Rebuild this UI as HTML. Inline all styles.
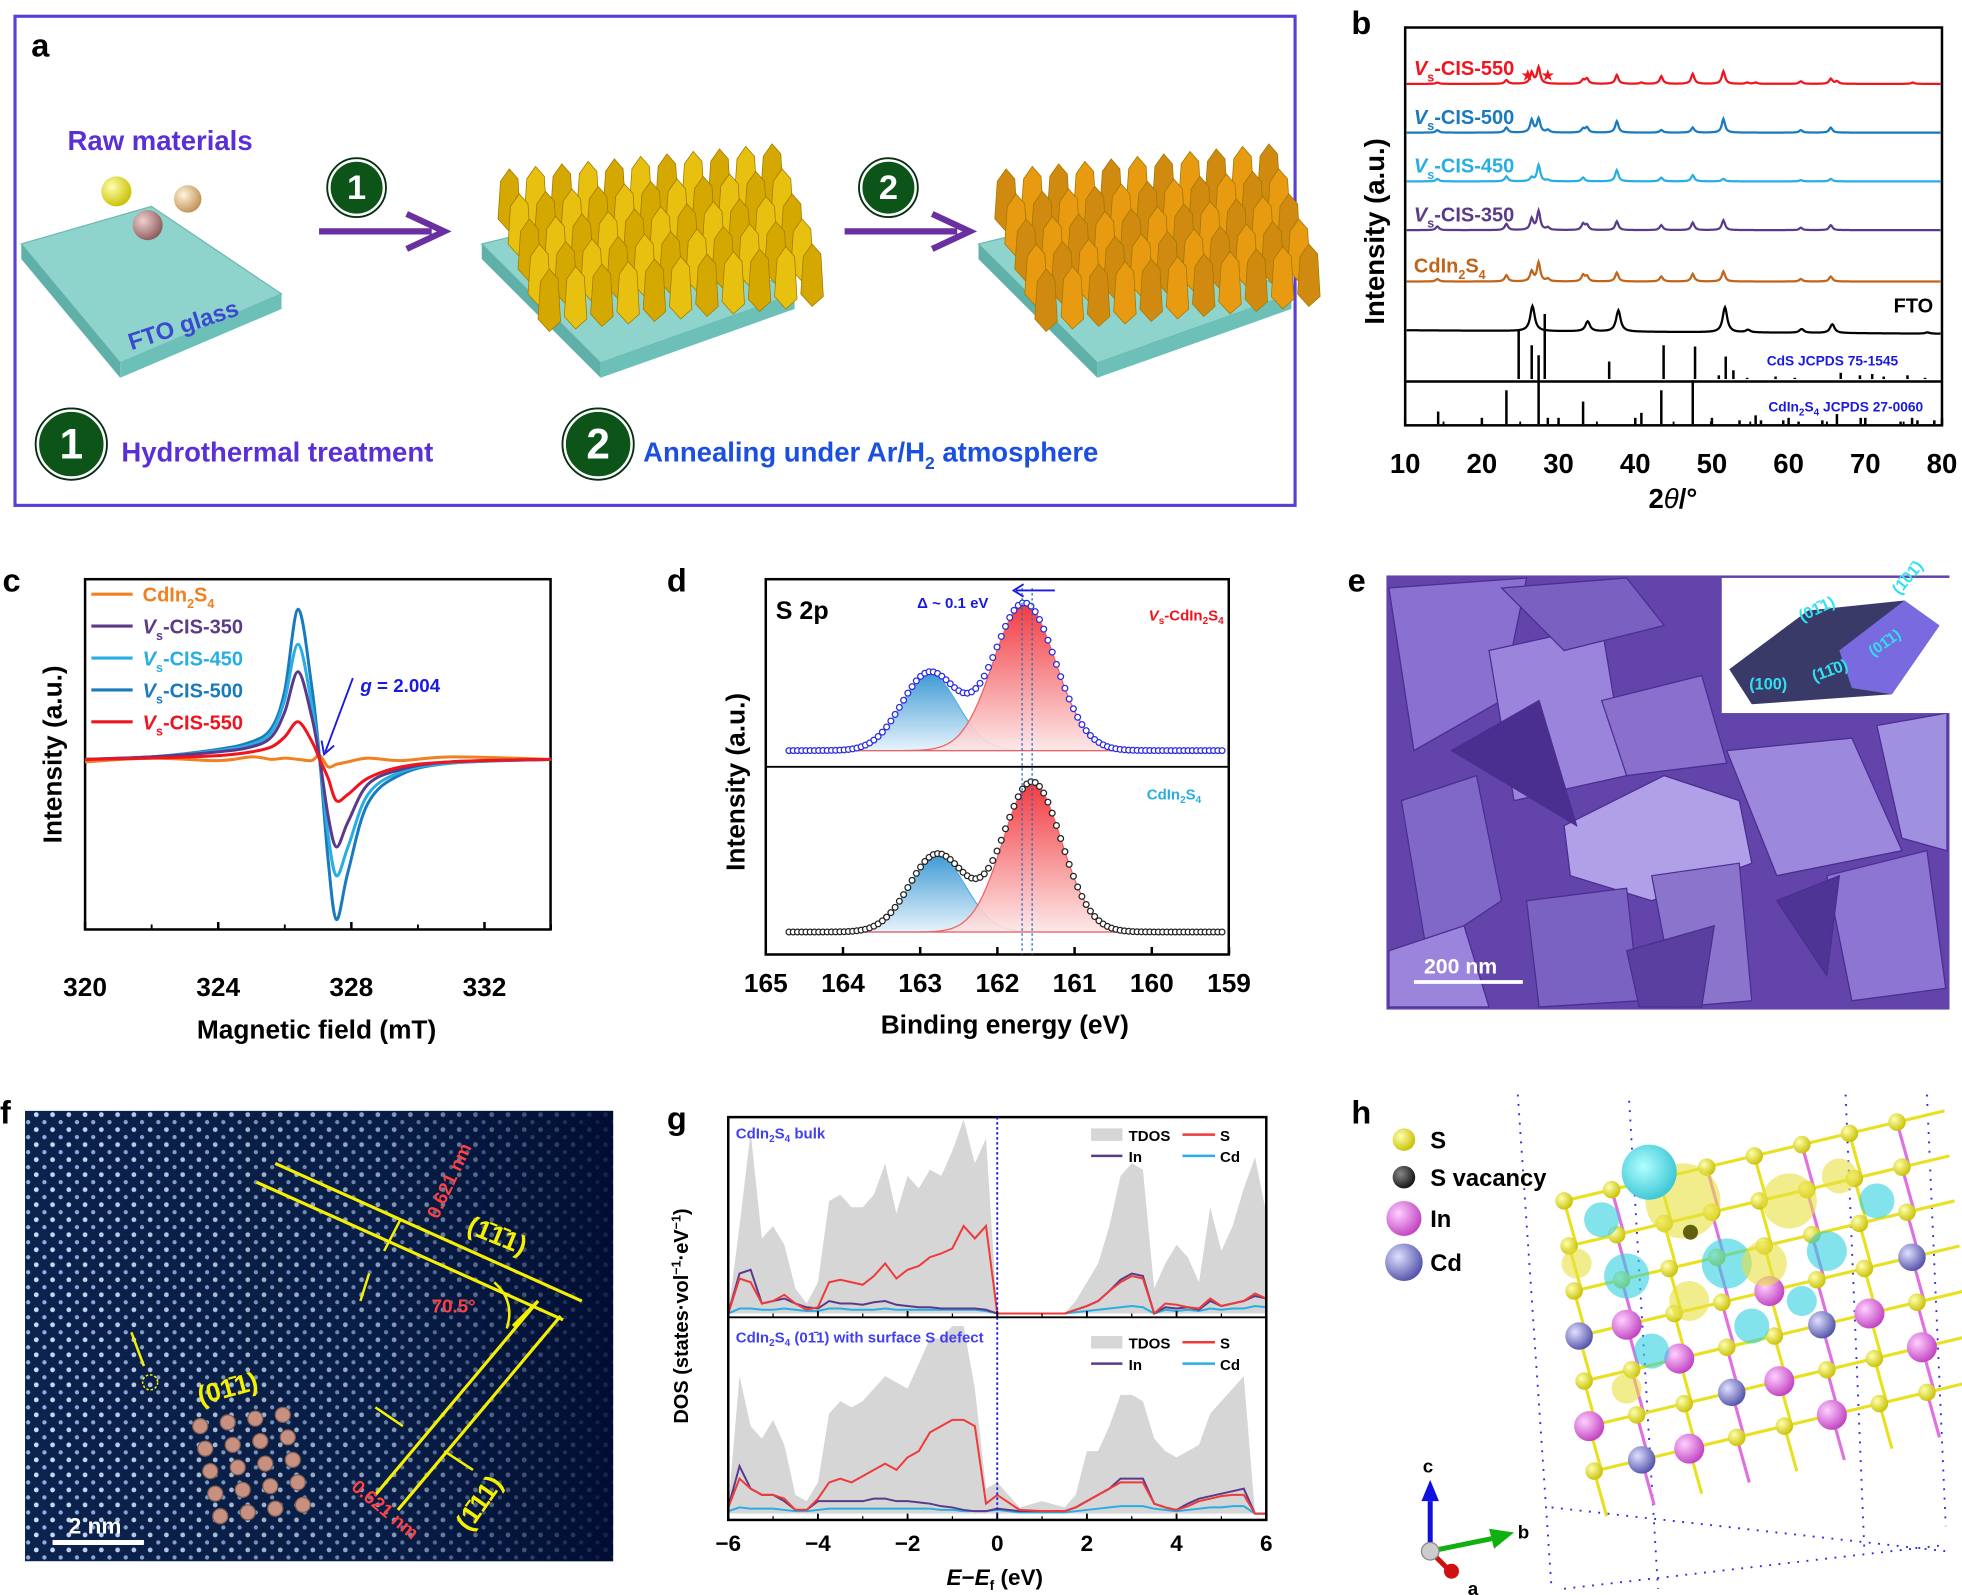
<!DOCTYPE html>
<html><head><meta charset="utf-8"><style>
html,body{margin:0;padding:0;background:#fff}
svg{display:block}
text{font-family:"Liberation Sans",sans-serif;font-weight:bold}
</style></head><body>
<svg id="fig" width="1962" height="1595" viewBox="0 0 1568 1275" preserveAspectRatio="none" xmlns="http://www.w3.org/2000/svg">
<defs>
<linearGradient id="gred" x1="0" y1="0" x2="0" y2="1"><stop offset="0" stop-color="#f0242a"/><stop offset="1" stop-color="#fde6e6"/></linearGradient>
<linearGradient id="gblue" x1="0" y1="0" x2="0" y2="1"><stop offset="0" stop-color="#2a8fd0"/><stop offset="1" stop-color="#e4f2fb"/></linearGradient>
<radialGradient id="gy" cx="0.35" cy="0.35" r="0.7"><stop offset="0" stop-color="#ffffb0"/><stop offset="1" stop-color="#c8c000"/></radialGradient>
<radialGradient id="gbr" cx="0.35" cy="0.35" r="0.7"><stop offset="0" stop-color="#f0d0d0"/><stop offset="1" stop-color="#8a5a5a"/></radialGradient>
<radialGradient id="gbe" cx="0.35" cy="0.35" r="0.7"><stop offset="0" stop-color="#fff4dc"/><stop offset="1" stop-color="#c09050"/></radialGradient>
<radialGradient id="gin" cx="0.35" cy="0.35" r="0.7"><stop offset="0" stop-color="#ffd0ff"/><stop offset="1" stop-color="#c040c0"/></radialGradient>
<radialGradient id="gcd" cx="0.35" cy="0.35" r="0.7"><stop offset="0" stop-color="#e0e0ff"/><stop offset="1" stop-color="#5050a8"/></radialGradient>
<radialGradient id="gk" cx="0.35" cy="0.35" r="0.7"><stop offset="0" stop-color="#888"/><stop offset="1" stop-color="#111"/></radialGradient>
<radialGradient id="gcy" cx="0.4" cy="0.4" r="0.7"><stop offset="0" stop-color="#b0ffff"/><stop offset="1" stop-color="#30c0d0"/></radialGradient>
<pattern id="dots" x="0" y="0" width="13" height="12" patternUnits="userSpaceOnUse"><rect width="13" height="12" fill="#0c2350"/><circle cx="3" cy="3" r="1.9" fill="#c8def8"/><circle cx="9.5" cy="9" r="1.7" fill="#90b4e0"/></pattern>
<linearGradient id="fdark" x1="0" y1="0" x2="1" y2="0"><stop offset="0" stop-color="#000" stop-opacity="0"/><stop offset="0.6" stop-color="#001030" stop-opacity="0.3"/><stop offset="1" stop-color="#000a30" stop-opacity="0.9"/></linearGradient>
</defs>
</svg>
<script>
// ---------------- DATA ----------------
// Panel b: XRD
const xrdSeriesNames = ["Vs-CIS-550","Vs-CIS-500","Vs-CIS-450","Vs-CIS-350","CdIn2S4","FTO"];
const xrdBaselines = [67,106,145,184,225,264];
const peakPos550 = [14.2,23.2,25.0,26.5,27.4,28.5,33.2,33.7,37.6,40.8,43.4,47.5,51.5,54.6,55.7,61.6,65.5,66.3,76.2];
const peakH550 = [1,3,0,9,13,0,3,4,7,1,6,8,10,1,1,2,4,2,1];
const peakPos500 = [14.2,23.2,26.5,27.4,28.6,33.2,33.7,37.6,43.4,47.5,51.5,61.6,65.5];
const peakH500 = [2,4,10,11,2,3,4,9,2,4,11,2,4];
const peakPos450 = [14.2,23.2,26.5,27.4,28.6,33.2,37.6,43.4,47.5,51.5,61.6,65.5];
const peakH450 = [2,4,3,13,1,3,9,3,5,2,1,2];
const peakPos350 = [14.2,23.2,26.5,27.4,28.6,33.2,33.7,37.6,43.4,47.5,51.5,61.6,65.5];
const peakH350 = [3,5,9,15,2,5,4,7,4,6,8,2,4];
const peakPosCIS = [14.2,23.2,26.5,27.4,28.6,33.2,33.7,37.6,43.4,47.5,51.5,61.6,65.5];
const peakHCIS = [2,5,8,15,2,5,4,7,4,6,8,2,4];
const peakPosFTO = [26.6,33.8,37.8,51.7,54.7,61.7,65.7,78.1];
const peakHFTO = [20,8,17,20,2,3,7,1];
const cdsSticks = [24.8,26.5,28.2,36.6,43.7,47.8,50.9,51.8,52.8,54.6,58.3,60.8,66.8,69.3,70.9,72.4,75.5,77.8];
const cdsStickH = [40,27,52,14,27,26,3,18,7,1,2,1,5,3,4,2,3,1];
const cisSticks = [14.3,23.2,27.4,28.6,33.2,40.8,43.4,47.5,49.9,53.6,55.7,56.4,59.3,61.3,64.4,66.3,69.4,74.6,76.1,76.8,79.0];
const cisStickH = [10,27,55,5,18,9,27,35,2,3,7,3,3,2,3,8,5,2,5,3,3];
const xrdTicks = [10,20,30,40,50,60,70,80];

// Panel c: EPR
const eprField = [320,322,324,325,325.6,326.0,326.4,326.8,327.05,327.3,327.55,327.9,328.5,329.5,331,334];
const epr550 = [0,1,3,6,10,18,30,15,0,-15,-33,-28,-15,-6,-2,0];
const epr500 = [0,2,8,14,25,55,120,60,0,-80,-128,-90,-35,-12,-3,0];
const epr450 = [0,2,7,12,22,48,92,45,0,-60,-93,-70,-28,-10,-3,0];
const epr350 = [0,2,6,10,18,38,70,35,0,-45,-70,-50,-20,-8,-2,0];
const eprCIS = [-2,1,-1,2,0,1,0,-1,3,-6,-4,-2,1,-1,2,0];
const eprTicks = [320,324,328,332];

// Panel d: XPS (center eV, height, sigma)
const xpsTopS32 = [161.65,118,0.40];
const xpsTopS12 = [162.88,62,0.36];
const xpsBotS32 = [161.55,120,0.38];
const xpsBotS12 = [162.78,62,0.36];
const xpsTicks = [165,164,163,162,161,160,159];

// Panel g: DOS
const dosE = [-6,-5.75,-5.5,-5.25,-5,-4.75,-4.5,-4.25,-4,-3.75,-3.5,-3.25,-3,-2.75,-2.5,-2.25,-2,-1.75,-1.5,-1.25,-1,-0.75,-0.5,-0.25,0,0.5,1,1.5,1.75,2,2.25,2.5,2.75,3,3.25,3.5,3.75,4,4.25,4.5,4.75,5,5.25,5.5,5.75,6];
const dosTopT = [0,70,145,60,70,55,20,8,25,90,95,85,85,95,120,80,110,100,115,110,130,155,120,140,0,0,0,0,10,25,40,70,110,120,115,20,40,55,45,25,85,50,70,100,125,80];
const dosTopS = [0,28,25,8,10,15,8,3,5,25,27,25,23,30,40,28,35,38,45,48,52,70,60,70,0,0,0,0,3,6,10,18,25,30,28,0,8,7,5,4,12,6,8,10,16,12];
const dosTopIn = [0,32,35,8,10,12,8,5,4,10,8,8,7,9,10,7,6,5,5,4,4,4,4,3,0,0,0,0,3,6,10,18,27,32,30,0,5,4,5,3,10,6,8,10,14,12];
const dosTopCd = [0,4,4,3,3,4,3,2,2,4,4,3,3,3,4,3,3,3,3,3,3,3,3,2,0,0,0,0,1,2,3,4,5,6,5,0,3,2,3,2,4,3,4,4,6,5];
const dosBotT = [5,110,70,60,75,55,15,10,25,80,90,85,90,100,110,105,100,120,140,140,150,150,100,20,25,5,10,5,15,50,50,70,95,95,90,60,50,45,50,55,80,90,100,110,0,0];
const dosBotS = [5,28,20,15,15,12,3,3,12,25,28,25,30,35,40,35,45,50,65,70,75,75,70,8,15,3,2,2,5,10,15,20,25,25,25,8,5,3,6,10,12,14,15,15,0,0];
const dosBotIn = [5,38,20,15,15,10,3,3,10,10,10,10,10,12,12,10,10,9,8,6,5,3,2,2,4,2,2,2,5,10,15,20,28,28,28,8,5,3,8,12,14,16,18,20,0,0];
const dosBotCd = [2,5,4,4,4,3,2,2,3,4,4,4,4,4,4,4,4,4,4,3,3,2,2,2,3,1,1,1,2,3,4,5,6,6,6,4,3,2,3,4,5,5,6,6,0,0];
const dosTicks = [-6,-4,-2,0,2,4,6];

// ---------------- HELPERS ----------------
const NS="http://www.w3.org/2000/svg";
const svg=document.getElementById('fig');
function mk(tag,attrs,parent){const e=document.createElementNS(NS,tag);for(const k in attrs)e.setAttribute(k,attrs[k]);(parent||svg).appendChild(e);return e;}
function txt(x,y,s,size,fill,anchor,parent){const t=mk('text',{x:x,y:y,'font-size':size,fill:fill||'#000','text-anchor':anchor||'start'},parent);t.innerHTML=s;return t;}
function smooth(pts){let d='M'+pts[0][0].toFixed(1)+','+pts[0][1].toFixed(1);for(let i=0;i<pts.length-1;i++){const p0=pts[i-1]||pts[i],p1=pts[i],p2=pts[i+1],p3=pts[i+2]||p2;const c1=[p1[0]+(p2[0]-p0[0])/6,p1[1]+(p2[1]-p0[1])/6],c2=[p2[0]-(p3[0]-p1[0])/6,p2[1]-(p3[1]-p1[1])/6];d+=' C'+c1[0].toFixed(1)+','+c1[1].toFixed(1)+' '+c2[0].toFixed(1)+','+c2[1].toFixed(1)+' '+p2[0].toFixed(1)+','+p2[1].toFixed(1);}return d;}
function g(name){const e=mk('g',{});return e;}

// ---------------- PANEL A ----------------
(function(){
const G=g('panel-a-schematic');
const box=mk('rect',{x:12,y:13,width:1023,height:391,fill:'none',stroke:'#5a3fd6','stroke-width':2.5},G);

const la=txt(25,45,'a',26,'#000','start',G);
function slab(ox,oy,w,name){const s=g(name);G.appendChild(s);
 mk('polygon',{points:`${ox},${oy} ${ox+w*0.5},${oy-30} ${ox+w},${oy+40} ${ox+w*0.38},${oy+95}`,fill:'#8fd4cc',stroke:'#6bb8b0'},s);
 mk('polygon',{points:`${ox},${oy} ${ox+w*0.38},${oy+95} ${ox+w*0.38},${oy+107} ${ox},${oy+12}`,fill:'#5fb0a8'},s);
 mk('polygon',{points:`${ox+w*0.38},${oy+95} ${ox+w},${oy+40} ${ox+w},${oy+52} ${ox+w*0.38},${oy+107}`,fill:'#6cc0b8'},s);return s;}
slab(17,195,208,'fto-glass-substrate');
mk('circle',{cx:93,cy:153,r:12,fill:'url(#gy)'},G);
mk('circle',{cx:118,cy:180,r:12,fill:'url(#gbr)'},G);
mk('circle',{cx:150,cy:159,r:11,fill:'url(#gbe)'},G);
const rm=txt(54,120,'Raw materials',22,'#5b2fd6','start',G);
const fg=txt(105,280,'FTO glass',19,'#3a4ad0','start',G);fg.setAttribute('transform','rotate(-18 105 280)');
function arrow(x1,x2,y,name){const a=g(name);G.appendChild(a);mk('line',{x1:x1,y1:y,x2:x2-10,y2:y,stroke:'#6a2fa0','stroke-width':5},a);mk('polyline',{points:`${x2-30},${y-14} ${x2},${y} ${x2-30},${y+14}`,fill:'none',stroke:'#6a2fa0','stroke-width':5},a);}
arrow(255,355,185,'step-1-arrow');arrow(675,775,185,'step-2-arrow');
function badge(cx,cy,r,n,name){const b=g(name);G.appendChild(b);mk('circle',{cx:cx,cy:cy,r:r,fill:'#0c5418',stroke:'#fff','stroke-width':2.5},b);mk('circle',{cx:cx,cy:cy,r:r+1.5,fill:'none',stroke:'#063010','stroke-width':1.5},b);txt(cx,cy+r*0.42,n,r*1.25,'#fff','middle',b);}
badge(285,150,22,'1','step-1-badge');badge(710,150,22,'2','step-2-badge');
function plates(ox,oy,c1,c2,name){const s=slab(ox,oy+15,250,name+'-substrate');const p=g(name);G.appendChild(p);
 for(let r=0;r<5;r++)for(let c=0;c<11;c++){const x=ox+15+c*21+r*8,y=oy-45+r*20+c*-2;const w=14,h=50;
  mk('polygon',{points:`${x},${y+10} ${x+w/2},${y} ${x+w},${y+8} ${x+w+2},${y+h-8} ${x+w/2},${y+h} ${x-2},${y+h-10}`,fill:(r+c)%2?c1:c2,stroke:'#a07800','stroke-width':0.6},p);}}
plates(385,180,'#e8c010','#d4a800','yellow-cdin2s4-plates');
plates(782,180,'#e89a10','#d08a10','annealed-orange-plates');
badge(57,355,27,'1','legend-step-1-badge');badge(478,355,27,'2','legend-step-2-badge');
const h1=txt(97,369,'Hydrothermal treatment',22,'#5b2fd6','start',G);
const h2=txt(514,369,'Annealing under Ar/H<tspan font-size="14" dy="6">2</tspan><tspan dy="-6"> atmosphere</tspan>',22,'#1a4fe0','start',G);
})();

// ---------------- PANEL B ----------------
(function(){
const G=g('panel-b-xrd');
const X0=1123,X1=1552,xs=t=>X0+(t-10)*(X1-X0)/70;
const lb=txt(1080,27,'b',26,'#000','start',G);
const fr=mk('rect',{x:X0,y:22,width:X1-X0,height:318,fill:'none',stroke:'#000','stroke-width':2},G);
mk('line',{x1:X0,y1:305,x2:X1,y2:305,stroke:'#000','stroke-width':2},G);
const colors=['#f0141e','#1a7abf','#27aee3','#5b3a8a','#c0651a','#000'];
const pos=[peakPos550,peakPos500,peakPos450,peakPos350,peakPosCIS,peakPosFTO],hs=[peakH550,peakH500,peakH450,peakH350,peakHCIS,peakHFTO];
for(let s=0;s<6;s++){let d='';for(let t=10.2;t<=79.8;t+=0.1){let v=0;for(let k=0;k<pos[s].length;k++){const w=s==5?0.35:0.25;v+=hs[s][k]/(1+((t-pos[s][k])/w)**2);}
 const base=xrdBaselines[s]+(s==5?(t-10)*0.04:0);d+=(d?'L':'M')+xs(t).toFixed(1)+','+(base-v).toFixed(1);}
 const p=mk('path',{d:d,fill:'none',stroke:colors[s],'stroke-width':1.8},G);
 }
const labs=[['<tspan font-style="italic">V</tspan><tspan font-size="10" dy="5">s</tspan><tspan dy="-5">-CIS-550</tspan>',60],['<tspan font-style="italic">V</tspan><tspan font-size="10" dy="5">s</tspan><tspan dy="-5">-CIS-500</tspan>',99],['<tspan font-style="italic">V</tspan><tspan font-size="10" dy="5">s</tspan><tspan dy="-5">-CIS-450</tspan>',138],['<tspan font-style="italic">V</tspan><tspan font-size="10" dy="5">s</tspan><tspan dy="-5">-CIS-350</tspan>',177],['CdIn<tspan font-size="10" dy="5">2</tspan><tspan dy="-5">S</tspan><tspan font-size="10" dy="5">4</tspan>',218]];
labs.forEach((l,i)=>{const t=txt(1130,l[1],l[0],16,colors[i],'start',G);});
txt(1216,64,'★',11,'#f0141e','start',G);txt(1232,64,'★',11,'#f0141e','start',G);
const ft=txt(1545,250,'FTO',16,'#000','end',G);
cdsSticks.forEach((t,i)=>{const l=mk('line',{x1:xs(t),y1:303,x2:xs(t),y2:303-cdsStickH[i],stroke:'#000','stroke-width':2},G);});
cisSticks.forEach((t,i)=>{const l=mk('line',{x1:xs(t),y1:339,x2:xs(t),y2:339-cisStickH[i],stroke:'#000','stroke-width':2},G);});
txt(1517,292,'CdS JCPDS 75-1545',11,'#1a1ae0','end',G);
txt(1537,329,'CdIn<tspan font-size="8" dy="3">2</tspan><tspan dy="-3">S</tspan><tspan font-size="8" dy="3">4</tspan><tspan dy="-3"> JCPDS 27-0060</tspan>',11,'#1a1ae0','end',G);
xrdTicks.forEach(t=>{mk('line',{x1:xs(t),y1:340,x2:xs(t),y2:334,stroke:'#000','stroke-width':2},G);const tt=txt(xs(t),378,t,22,'#000','middle',G);if(t<80)mk('line',{x1:xs(t+5),y1:340,x2:xs(t+5),y2:337,stroke:'#000','stroke-width':1.5},G);});
const xl=txt(1337,406,'2<tspan font-style="italic" font-weight="normal">θ</tspan>/°',22,'#000','middle',G);
const yl=txt(1106,185,'Intensity (a.u.)',22,'#000','middle',G);yl.setAttribute('transform','rotate(-90 1106 185)');
})();

// ---------------- PANEL C ----------------
(function(){
const G=g('panel-c-epr');
const X0=68,xs=f=>X0+(f-320)*26.6,ys=v=>607-v;
const lc=txt(2,473,'c',26,'#000','start',G);
const fr=mk('rect',{x:68,y:463,width:372,height:280,fill:'none',stroke:'#000','stroke-width':2},G);
const series=[[eprCIS,'#f08020','cdin2s4'],[epr500,'#1a7abf','vs-cis-500'],[epr450,'#27aee3','vs-cis-450'],[epr350,'#5b3a8a','vs-cis-350'],[epr550,'#f0141e','vs-cis-550']];
series.forEach(s=>{const pts=eprField.map((f,i)=>[xs(f),ys(s[0][i])]);const p=mk('path',{d:smooth(pts),fill:'none',stroke:s[1],'stroke-width':2.4},G);});
const leg=[['CdIn<tspan font-size="10" dy="5">2</tspan><tspan dy="-5">S</tspan><tspan font-size="10" dy="5">4</tspan>','#f08020'],['<tspan font-style="italic">V</tspan><tspan font-size="10" dy="5">s</tspan><tspan dy="-5">-CIS-350</tspan>','#5b3a8a'],['<tspan font-style="italic">V</tspan><tspan font-size="10" dy="5">s</tspan><tspan dy="-5">-CIS-450</tspan>','#27aee3'],['<tspan font-style="italic">V</tspan><tspan font-size="10" dy="5">s</tspan><tspan dy="-5">-CIS-500</tspan>','#1a7abf'],['<tspan font-style="italic">V</tspan><tspan font-size="10" dy="5">s</tspan><tspan dy="-5">-CIS-550</tspan>','#f0141e']];
leg.forEach((l,i)=>{const y=475+i*25.5;const e=g('epr-legend-entry');G.appendChild(e);mk('line',{x1:73,y1:y,x2:106,y2:y,stroke:l[1],'stroke-width':2.5},e);txt(114,y+6,l[0],16,l[1],'start',e);});
const gv=txt(288,553,'<tspan font-style="italic">g</tspan> = 2.004',15,'#1a1ae0','start',G);
mk('line',{x1:282,y1:542,x2:260,y2:601,stroke:'#1a1ae0','stroke-width':1.5},G);mk('polyline',{points:'257,592 259,603 267,596',fill:'none',stroke:'#1a1ae0','stroke-width':1.5},G);
eprTicks.forEach(t=>{mk('line',{x1:xs(t),y1:743,x2:xs(t),y2:737,stroke:'#000','stroke-width':2},G);mk('line',{x1:xs(t+2),y1:743,x2:xs(t+2),y2:739,stroke:'#000','stroke-width':1.5},G);const tt=txt(xs(t),796,t,21,'#000','middle',G);});
const xl=txt(253,830,'Magnetic field (mT)',21,'#000','middle',G);
const yl=txt(49,603,'Intensity (a.u.)',21,'#000','middle',G);yl.setAttribute('transform','rotate(-90 49 603)');
})();

// ---------------- PANEL D ----------------
(function(){
const G=g('panel-d-xps');
const xs=e=>612+(165-e)*61.7;
const ld=txt(533,473,'d',26,'#000','start',G);
const fr=mk('rect',{x:612,y:463,width:370,height:300,fill:'none',stroke:'#000','stroke-width':2},G);
mk('line',{x1:612,y1:613,x2:982,y2:613,stroke:'#000','stroke-width':1.5},G);
function gauss(p,e){return p[1]*Math.exp(-((e-p[0])**2)/(2*p[2]*p[2]));}
function panel(b,p32,p12,circ,name){
 [[p12,'url(#gblue)','#5ab0e0'],[p32,'url(#gred)','#f06060']].forEach(q=>{let d='M'+xs(164.6)+','+b;for(let e=164.6;e>=159.4;e-=0.05)d+='L'+xs(e).toFixed(1)+','+(b-gauss(q[0],e)).toFixed(1);d+='Z';const a=mk('path',{d:d,fill:q[1],stroke:q[2],'stroke-width':1,'fill-opacity':0.9},G);});
 const cg=g(name+'-envelope-points');G.appendChild(cg);
 for(let e=164.7;e>=159.05;e-=0.055){const v=gauss(p32,e)+gauss(p12,e);mk('circle',{cx:xs(e),cy:b-v,r:2.3,fill:'#fff',stroke:circ,'stroke-width':1},cg);}}
panel(600,xpsTopS32,xpsTopS12,'#2a2ae0','xps-vs-cdin2s4');
panel(745,xpsBotS32,xpsBotS12,'#222','xps-cdin2s4');
mk('line',{x1:xs(161.68),y1:470,x2:xs(161.68),y2:763,stroke:'#1a6ad0','stroke-width':1,'stroke-dasharray':'2,2'},G);
mk('line',{x1:xs(161.55),y1:470,x2:xs(161.55),y2:763,stroke:'#1a6ad0','stroke-width':1,'stroke-dasharray':'2,2'},G);
mk('line',{x1:843,y1:472,x2:812,y2:472,stroke:'#1a1ae0','stroke-width':1.5},G);mk('polyline',{points:'818,467 810,472 818,477',fill:'none',stroke:'#1a1ae0','stroke-width':1.5},G);
txt(733,486,'Δ ~ 0.1 eV',12,'#1a1ae0','start',G);
const s2=txt(620,495,'S 2p',20,'#000','start',G);
txt(978,496,'<tspan font-style="italic">V</tspan><tspan font-size="8" dy="3">s</tspan><tspan dy="-3">-CdIn</tspan><tspan font-size="8" dy="3">2</tspan><tspan dy="-3">S</tspan><tspan font-size="8" dy="3">4</tspan>',12,'#f0141e','end',G);
txt(960,639,'CdIn<tspan font-size="8" dy="3">2</tspan><tspan dy="-3">S</tspan><tspan font-size="8" dy="3">4</tspan>',12,'#27aee3','end',G);
xpsTicks.forEach(t=>{mk('line',{x1:xs(t),y1:763,x2:xs(t),y2:757,stroke:'#000','stroke-width':2},G);const tt=txt(xs(t),793,t,21,'#000','middle',G);});
const xl=txt(803,826,'Binding energy (eV)',21,'#000','middle',G);
const yl=txt(595,625,'Intensity (a.u.)',21,'#000','middle',G);yl.setAttribute('transform','rotate(-90 595 625)');
})();

// ---------------- PANEL E ----------------
(function(){
const G=g('panel-e-sem');
const le=txt(1077,473,'e',26,'#000','start',G);
const bg=mk('rect',{x:1108,y:460,width:450,height:347,fill:'#6244aa'},G);
const polys=[['1110,470 1220,462 1200,560 1130,600','#8a70d0'],['1190,520 1280,500 1300,620 1210,640','#9a84dc'],['1250,660 1330,620 1390,640 1400,690 1320,720 1255,700','#b0a0e8'],['1320,700 1390,690 1400,800 1340,805','#8a74cc'],['1380,600 1480,590 1520,680 1420,700','#9c88dc'],['1120,640 1180,620 1200,720 1140,760','#8068c8'],['1460,700 1540,680 1555,790 1480,800','#8c76d2'],['1220,720 1300,710 1310,800 1230,805','#7a62c2'],['1400,480 1500,470 1520,560 1420,560','#9078d4'],['1160,600 1230,560 1260,660','#4a2e90'],['1280,560 1360,540 1380,610 1300,620','#8a70cc'],['1110,760 1170,740 1190,805 1110,805','#9a84dc'],['1420,720 1470,700 1460,780','#4e3494'],['1200,470 1300,462 1330,500 1250,520','#7a60c0'],['1500,580 1556,570 1556,680 1520,670','#a090e0'],['1300,760 1370,740 1360,805 1310,805','#5a3ea0']];
polys.forEach(p=>mk('polygon',{points:p[0],fill:p[1],stroke:'#4a2e90','stroke-width':1},G));
const ins=mk('rect',{x:1376,y:462,width:182,height:108,fill:'#fff'},G);
mk('polygon',{points:'1382,535 1445,488 1522,480 1550,500 1512,555 1400,563',fill:'#3a3a68'},G);
mk('polygon',{points:'1470,520 1522,480 1550,500 1512,555 1480,550',fill:'#7a6ae0'},G);
txt(1440,497,'(01̄1)',13,'#30e0f0','start',G).setAttribute('transform','rotate(-25 1440 497)');
txt(1518,476,'(1̄01̄)',13,'#30e0f0','start',G).setAttribute('transform','rotate(-50 1518 476)');
txt(1497,525,'(01̄1)',12,'#30e0f0','start',G).setAttribute('transform','rotate(-35 1497 525)');
txt(1398,551,'(100)',13,'#30e0f0','start',G);
txt(1450,545,'(11̄0)',13,'#30e0f0','start',G).setAttribute('transform','rotate(-20 1450 545)');
const sb=mk('line',{x1:1130,y1:785,x2:1217,y2:785,stroke:'#fff','stroke-width':3},G);
txt(1138,778,'200 nm',17,'#fff','start',G).setAttribute('font-weight','normal');
})();

// ---------------- PANEL F ----------------
(function(){
const G=g('panel-f-haadf');
const lf=txt(0,898,'f',26,'#000','start',G);
const im=mk('rect',{x:20,y:888,width:470,height:360,fill:'url(#dots)'},G);
mk('rect',{x:20,y:888,width:470,height:360,fill:'url(#fdark)'},G);
const Y='#f5f000';
[[205,945,450,1055],[220,930,465,1040]].forEach(l=>mk('line',{x1:l[0],y1:l[1],x2:l[2],y2:l[3],stroke:Y,'stroke-width':2.5},G));
[[430,1040,300,1195],[448,1052,318,1207]].forEach(l=>mk('line',{x1:l[0],y1:l[1],x2:l[2],y2:l[3],stroke:Y,'stroke-width':2.5},G));
mk('line',{x1:410,y1:1060,x2:430,y2:1040,stroke:Y,'stroke-width':2.5},G);
mk('path',{d:'M395,1025 Q412,1040 405,1062',fill:'none',stroke:Y,'stroke-width':2},G);
mk('line',{x1:320,y1:975,x2:307,y2:1000,stroke:Y,'stroke-width':2},G);mk('line',{x1:288,y1:1040,x2:295,y2:1018,stroke:Y,'stroke-width':2},G);
mk('line',{x1:300,y1:1125,x2:322,y2:1140,stroke:Y,'stroke-width':2},G);mk('line',{x1:378,y1:1175,x2:355,y2:1160,stroke:Y,'stroke-width':2},G);
mk('line',{x1:105,y1:1065,x2:115,y2:1092,stroke:Y,'stroke-width':2},G);
mk('circle',{cx:120,cy:1105,r:6,fill:'none',stroke:Y,'stroke-width':1.2,'stroke-dasharray':'2,1.5'},G);
txt(350,975,'0.621 nm',15,'#ff4040','start',G).setAttribute('transform','rotate(-65 350 975)');
txt(372,985,'(1̄1̄1)',21,Y,'start',G).setAttribute('transform','rotate(22 372 985)');
txt(345,1049,'70.5°',15,'#ff4040','start',G);
txt(160,1123,'(01̄1)',21,Y,'start',G).setAttribute('transform','rotate(-15 160 1123)');
txt(280,1190,'0.621 nm',15,'#ff4040','start',G).setAttribute('transform','rotate(40 280 1190)');
txt(375,1225,'(1̄11)',21,Y,'start',G).setAttribute('transform','rotate(-55 375 1225)');
const cg=g('crystal-model-overlay');G.appendChild(cg);
for(let r=0;r<5;r++)for(let c=0;c<4;c++)mk('circle',{cx:160+c*22+r*4,cy:1140+r*18-c*3,r:6,fill:'#c89080',stroke:'#806050'},cg);
mk('line',{x1:42,y1:1233,x2:115,y2:1233,stroke:'#fff','stroke-width':4},G);
txt(55,1226,'2 nm',18,'#fff','start',G).setAttribute('font-weight','normal');
})();

// ---------------- PANEL G ----------------
(function(){
const G=g('panel-g-dos');
const xs=e=>582+(e+6)*35.83;
const lg=txt(533,903,'g',26,'#000','start',G);
function panel(b,T,S,In,Cd,name){
 let d='M'+xs(-6)+','+b;dosE.forEach((e,i)=>d+='L'+xs(e).toFixed(1)+','+(b-T[i]).toFixed(1));d+='L'+xs(6)+','+b+'Z';
 const a=mk('path',{d:d,fill:'#d6d6d6'},G);
 [[Cd,'#27aee3','cd'],[In,'#5b3a8a','in'],[S,'#f03a3a','s']].forEach(q=>{let p='';dosE.forEach((e,i)=>p+=(p?'L':'M')+xs(e).toFixed(1)+','+(b-q[0][i]).toFixed(1));const l=mk('path',{d:p,fill:'none',stroke:q[1],'stroke-width':1.6},G);});}
panel(1050,dosTopT,dosTopS,dosTopIn,dosTopCd,'bulk');
panel(1210,dosBotT,dosBotS,dosBotIn,dosBotCd,'surface-defect');
const fr=mk('rect',{x:582,y:893,width:430,height:322,fill:'none',stroke:'#000','stroke-width':2},G);
mk('line',{x1:582,y1:1053,x2:1012,y2:1053,stroke:'#000','stroke-width':1.5},G);
mk('line',{x1:xs(0),y1:893,x2:xs(0),y2:1215,stroke:'#1a1ae0','stroke-width':1.5,'stroke-dasharray':'2,2'},G);
txt(588,910,'CdIn<tspan font-size="8" dy="3">2</tspan><tspan dy="-3">S</tspan><tspan font-size="8" dy="3">4</tspan><tspan dy="-3"> bulk</tspan>',12,'#4040f0','start',G);
txt(588,1073,'CdIn<tspan font-size="8" dy="3">2</tspan><tspan dy="-3">S</tspan><tspan font-size="8" dy="3">4</tspan><tspan dy="-3"> (01̄1) with surface S defect</tspan>',12,'#4040f0','start',G);
[[903,'top'],[1069,'bottom']].forEach(q=>{const y=q[0];const e=g('dos-legend-'+q[1]);G.appendChild(e);
 mk('rect',{x:872,y:y-1,width:25,height:10,fill:'#d6d6d6'},e);txt(902,y+9,'TDOS',12,'#000','start',e);
 mk('line',{x1:945,y1:y+4,x2:971,y2:y+4,stroke:'#f03a3a','stroke-width':2},e);txt(975,y+9,'S',12,'#000','start',e);
 mk('line',{x1:872,y1:y+21,x2:897,y2:y+21,stroke:'#5b3a8a','stroke-width':2},e);txt(902,y+26,'In',12,'#000','start',e);
 mk('line',{x1:945,y1:y+21,x2:971,y2:y+21,stroke:'#27aee3','stroke-width':2},e);txt(975,y+26,'Cd',12,'#000','start',e);});
dosTicks.forEach(t=>{[1215,1053].forEach(yy=>mk('line',{x1:xs(t),y1:yy,x2:xs(t),y2:yy-5,stroke:'#000','stroke-width':1.5},G));if(t<6)[1215,1053].forEach(yy=>mk('line',{x1:xs(t+1),y1:yy,x2:xs(t+1),y2:yy-3,stroke:'#000','stroke-width':1},G));
 const tt=txt(xs(t),1240,t<0?'−'+(-t):t,18,'#000','middle',G);});
const xl=txt(795,1267,'<tspan font-style="italic">E</tspan>−<tspan font-style="italic">E</tspan><tspan font-size="11" dy="4">f</tspan><tspan dy="-4"> (eV)</tspan>',18,'#000','middle',G);
const yl=txt(550,1052,'DOS (states·vol<tspan font-size="10" dy="-6">−1</tspan><tspan dy="6">·eV</tspan><tspan font-size="10" dy="-6">−1</tspan><tspan dy="6">)</tspan>',16,'#000','middle',G);yl.setAttribute('transform','rotate(-90 550 1052)');
})();

// ---------------- PANEL H ----------------
(function(){
const G=g('panel-h-structure');
const lh=txt(1080,898,'h',26,'#000','start',G);
[[1213,875,1240,1270],[1302,880,1325,1270],[1475,875,1490,1240],[1540,875,1555,1220],[1240,1205,1555,1240],[1250,1270,1555,1235]].forEach(l=>mk('line',{x1:l[0],y1:l[1],x2:l[2],y2:l[3],stroke:'#2a2ae0','stroke-width':1.5,'stroke-dasharray':'1.5,6'},G));
const bd=g('atom-bonds');G.appendChild(bd);
for(let r=0;r<7;r++)for(let c=0;c<8;c++){const x=1250+c*38+r*4,y=960+r*36-c*9;mk('line',{x1:x,y1:y,x2:x+38,y2:y-9,stroke:'#e8e020','stroke-width':2.5},bd);mk('line',{x1:x,y1:y,x2:x+10,y2:y+36,stroke:(c%2?'#e070e0':'#e8e020'),'stroke-width':2.5},bd);}
const at=g('atoms');G.appendChild(at);
for(let r=0;r<7;r++)for(let c=0;c<8;c++){const x=1250+c*38+r*4,y=960+r*36-c*9;const k=(r*3+c*5)%7;
 if(r>=3&&k<2)mk('circle',{cx:x,cy:y,r:12,fill:'url(#gin)'},at);else if(r>=3&&k==2)mk('circle',{cx:x,cy:y,r:11,fill:'url(#gcd)'},at);else mk('circle',{cx:x,cy:y,r:7,fill:'url(#gy)'},at);}
const ch=g('charge-density-isosurfaces');G.appendChild(ch);
[[1345,960,30,'#e8e040'],[1380,1010,20,'#30d0e0'],[1300,1020,18,'#30d0e0'],[1430,960,22,'#e8e040'],[1460,1000,16,'#30d0e0'],[1350,1040,16,'#e8e040'],[1280,975,14,'#30d0e0'],[1500,960,14,'#30d0e0'],[1400,1060,14,'#30d0e0'],[1260,1010,12,'#e8e040'],[1410,1010,18,'#e8e040'],[1320,1080,14,'#30d0e0'],[1470,940,14,'#e8e040'],[1300,1110,12,'#e8e040'],[1440,1040,12,'#30d0e0']].forEach(b=>mk('circle',{cx:b[0],cy:b[1],r:b[2],fill:b[3],'fill-opacity':0.6},ch));
mk('circle',{cx:1318,cy:937,r:22,fill:'url(#gcy)'},ch);
mk('circle',{cx:1351,cy:985,r:6,fill:'#606010'},ch);
const leg=[['url(#gy)',9,'S',917],['url(#gk)',9,'S vacancy',947],['url(#gin)',14,'In',980],['url(#gcd)',15,'Cd',1015]];
leg.forEach(l=>{const e=g('structure-legend-entry');G.appendChild(e);mk('circle',{cx:1122,cy:l[3]-6,r:l[1],fill:l[0]},e);txt(1143,l[3]+1,l[2],19,'#000','start',e);});
const ax=g('crystal-axes-indicator');G.appendChild(ax);
mk('line',{x1:1143,y1:1240,x2:1143,y2:1200,stroke:'#1010e0','stroke-width':4},ax);mk('polygon',{points:'1136,1200 1150,1200 1143,1183',fill:'#1010e0'},ax);
mk('line',{x1:1143,y1:1240,x2:1192,y2:1230,stroke:'#10b010','stroke-width':4},ax);mk('polygon',{points:'1190,1222 1194,1238 1210,1225',fill:'#10b010'},ax);
mk('line',{x1:1143,y1:1240,x2:1158,y2:1255,stroke:'#d01010','stroke-width':4},ax);mk('circle',{cx:1160,cy:1256,r:6,fill:'#d01010'},ax);
mk('circle',{cx:1143,cy:1240,r:7,fill:'#ccc',stroke:'#888'},ax);
txt(1137,1177,'c',15,'#000','start',ax);txt(1213,1230,'b',15,'#000','start',ax);txt(1173,1275,'a',15,'#000','start',ax);
})();
</script>
</body></html>
